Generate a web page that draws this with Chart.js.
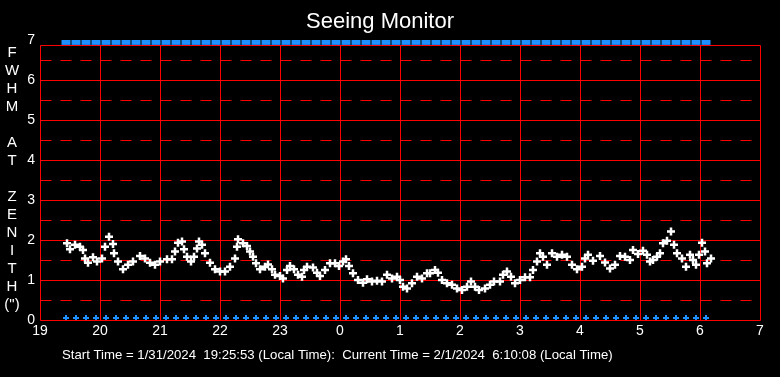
<!DOCTYPE html>
<html>
<head>
<meta charset="utf-8">
<title>Seeing Monitor</title>
<script src="https://cdn.jsdelivr.net/npm/chart.js@4.4.1/dist/chart.umd.min.js"></script>
<style>
    html, body { margin: 0; padding: 0; background: #000; }
    #wrap { width: 780px; height: 377px; }
</style>
</head>
<body>
<div id="wrap"><canvas id="seeingChart" width="780" height="377"></canvas></div>
<script>
// minutes after 19:00 local time
const seeingMinutes = [
    27, 30, 35, 40, 43, 45, 48, 53, 57, 62,
    65, 69, 73, 74, 78, 83, 88, 93, 100, 105,
    110, 115, 120, 127, 132, 135, 138, 142, 144, 147,
    151, 154, 157, 159, 162, 165, 170, 175, 180, 185,
    190, 195, 197, 198, 203, 207, 210, 213, 216, 220,
    225, 228, 232, 235, 240, 243, 247, 250, 254, 258,
    262, 264, 267, 273, 277, 280, 285, 290, 295, 299,
    303, 306, 309, 313, 318, 323, 327, 332, 337, 342,
    347, 352, 357, 360, 363, 367, 372, 377, 382, 387,
    390, 395, 398, 402, 407, 412, 417, 422, 427, 431,
    435, 439, 445, 450, 454, 460, 463, 467, 471, 475,
    480, 485, 490, 493, 497, 500, 503, 507, 512, 517,
    522, 527, 532, 537, 542, 545, 548, 553, 560, 565,
    570, 575, 580, 585, 590, 593, 598, 603, 607, 610,
    613, 617, 620, 623, 627, 631, 634, 637, 642, 646,
    650, 653, 656, 659, 662, 665, 667, 671
];
// FWHM at zenith (arcsec)
const seeingFwhm = [
    1.92, 1.77, 1.88, 1.83, 1.75, 1.54, 1.43, 1.57, 1.46, 1.54,
    1.83, 2.08, 1.90, 1.67, 1.46, 1.27, 1.38, 1.46, 1.60, 1.54,
    1.43, 1.38, 1.46, 1.52, 1.52, 1.71, 1.93, 1.96, 1.77, 1.58,
    1.46, 1.58, 1.79, 1.96, 1.88, 1.67, 1.43, 1.27, 1.21, 1.21,
    1.33, 1.54, 1.83, 2.02, 1.92, 1.85, 1.71, 1.58, 1.42, 1.27,
    1.33, 1.39, 1.27, 1.13, 1.10, 1.04, 1.25, 1.35, 1.27, 1.13,
    1.08, 1.25, 1.33, 1.31, 1.18, 1.10, 1.25, 1.42, 1.42, 1.35,
    1.46, 1.52, 1.35, 1.17, 1.00, 0.93, 1.02, 0.96, 0.98, 0.96,
    1.13, 1.04, 1.08, 1.00, 0.83, 0.79, 0.92, 1.08, 1.04, 1.17,
    1.17, 1.25, 1.18, 1.00, 0.92, 0.88, 0.79, 0.75, 0.83, 0.96,
    0.83, 0.75, 0.79, 0.88, 0.96, 0.96, 1.13, 1.21, 1.08, 0.92,
    1.00, 1.07, 1.07, 1.25, 1.46, 1.67, 1.58, 1.38, 1.67, 1.58,
    1.63, 1.58, 1.38, 1.27, 1.33, 1.54, 1.63, 1.48, 1.60, 1.44,
    1.29, 1.38, 1.60, 1.58, 1.50, 1.75, 1.65, 1.73, 1.63, 1.46,
    1.50, 1.58, 1.67, 1.92, 1.98, 2.21, 1.88, 1.67, 1.54, 1.33,
    1.63, 1.50, 1.38, 1.63, 1.93, 1.71, 1.42, 1.54
];
// blue marker times (minutes after 19:00)
const markerMinutes = [
    26, 36, 46, 56, 66, 76, 86, 96, 106, 116, 126, 136, 146, 156, 166, 176,
    186, 196, 206, 216, 226, 236, 246, 256, 266, 276, 286, 296, 306, 316, 326, 336,
    346, 356, 366, 376, 386, 396, 406, 416, 426, 436, 446, 456, 466, 476, 486, 496,
    506, 516, 526, 536, 546, 556, 566, 576, 586, 596, 606, 616, 626, 636, 646, 656, 666
];
const topMarkLevel = 6.94;
const bottomMarkLevel = 0.05;
const frameTop = 6.875;

const hourLabels = ['19', '20', '21', '22', '23', '0', '1', '2', '3', '4', '5', '6', '7'];
const yTitleLetters = ['F', 'W', 'H', 'M', '', 'A', 'T', '', 'Z', 'E', 'N', 'I', 'T', 'H', '(")'];
const footerText = 'Start Time = 1/31/2024  19:25:53 (Local Time):  Current Time = 2/1/2024  6:10:08 (Local Time)';

const FONT = 'Liberation Sans, Arial, sans-serif';

function toHour(m) {
    return 19 + m / 60;
}

// Red frame + solid / dashed grid, drawn under the points
const gridPlugin = {
    id: 'seeingGrid',
    beforeDatasetsDraw(chart) {
        const ctx = chart.ctx;
        const x = chart.scales.x, y = chart.scales.y;
        const top = Math.round(y.getPixelForValue(frameTop)) + 0.5;
        const bottom = Math.round(y.getPixelForValue(0)) + 0.5;
        const left = Math.round(x.getPixelForValue(19)) + 0.5;
        const right = Math.round(x.getPixelForValue(31)) + 0.5;
        ctx.save();
        ctx.strokeStyle = '#ff0000';
        ctx.lineWidth = 1;
        ctx.beginPath();
        for (let h = 19; h <= 31; h++) {
            const px = Math.round(x.getPixelForValue(h)) + 0.5;
            ctx.moveTo(px, top);
            ctx.lineTo(px, bottom);
        }
        for (let v = 0; v <= 6; v++) {
            const py = Math.round(y.getPixelForValue(v)) + 0.5;
            ctx.moveTo(left, py);
            ctx.lineTo(right, py);
        }
        ctx.moveTo(left, top);
        ctx.lineTo(right, top);
        ctx.stroke();

        ctx.setLineDash([11, 9]);
        ctx.beginPath();
        for (let v = 0.5; v < 7; v += 1) {
            const py = Math.round(y.getPixelForValue(v)) + 0.5;
            ctx.moveTo(left, py);
            ctx.lineTo(right, py);
        }
        ctx.stroke();
        ctx.restore();
    },
    afterDraw(chart) {
        const ctx = chart.ctx;
        ctx.save();
        ctx.fillStyle = '#ffffff';
        ctx.textAlign = 'center';
        ctx.textBaseline = 'middle';
        ctx.font = '15px ' + FONT;
        yTitleLetters.forEach((ch, i) => {
            if (ch) ctx.fillText(ch, 12, 53 + i * 18);
        });
        ctx.textAlign = 'left';
        ctx.font = '13.2px ' + FONT;
        ctx.fillText(footerText, 62, 355);
        ctx.restore();
    }
};

const ctx = document.getElementById('seeingChart').getContext('2d');

new Chart(ctx, {
    type: 'scatter',
    data: {
        datasets: [
            {
                label: 'FWHM',
                data: seeingMinutes.map((m, i) => ({ x: toHour(m), y: seeingFwhm[i] })),
                pointStyle: 'cross',
                pointRadius: 4,
                pointBorderWidth: 2.5,
                borderColor: '#ffffff',
                backgroundColor: '#ffffff',
                showLine: false
            },
            {
                label: 'top',
                data: markerMinutes.map(m => ({ x: toHour(m), y: topMarkLevel })),
                pointStyle: 'line',
                pointRadius: 4.5,
                pointBorderWidth: 5,
                borderColor: '#1e90ff',
                backgroundColor: '#1e90ff',
                showLine: false
            },
            {
                label: 'bottom',
                data: markerMinutes.map(m => ({ x: toHour(m), y: bottomMarkLevel })),
                pointStyle: 'cross',
                pointRadius: 3,
                pointBorderWidth: 2,
                borderColor: '#1e90ff',
                backgroundColor: '#1e90ff',
                showLine: false
            }
        ]
    },
    options: {
        responsive: false,
        devicePixelRatio: 1,
        animation: false,
        layout: {
            padding: { left: 0, right: 20, top: 0, bottom: 0 }
        },
        scales: {
            x: {
                type: 'linear',
                min: 19,
                max: 31,
                afterFit(scale) { scale.height = 57; },
                grid: { display: false, drawTicks: false },
                border: { display: false },
                ticks: {
                    stepSize: 1,
                    color: '#ffffff',
                    padding: 3,
                    maxRotation: 0,
                    font: { family: FONT, size: 14 },
                    callback: (value, index) => hourLabels[index]
                }
            },
            y: {
                min: 0,
                max: 7,
                afterFit(scale) { scale.width = 40; },
                grid: { display: false, drawTicks: false },
                border: { display: false },
                ticks: {
                    stepSize: 1,
                    color: '#ffffff',
                    padding: 5,
                    font: { family: FONT, size: 14 }
                }
            }
        },
        plugins: {
            legend: { display: false },
            tooltip: { enabled: false },
            title: {
                display: true,
                text: 'Seeing Monitor',
                color: '#ffffff',
                font: { family: FONT, size: 22, weight: 'normal' },
                padding: { top: 9, bottom: 4.6 }
            }
        }
    },
    plugins: [gridPlugin]
});
</script>
</body>
</html>
